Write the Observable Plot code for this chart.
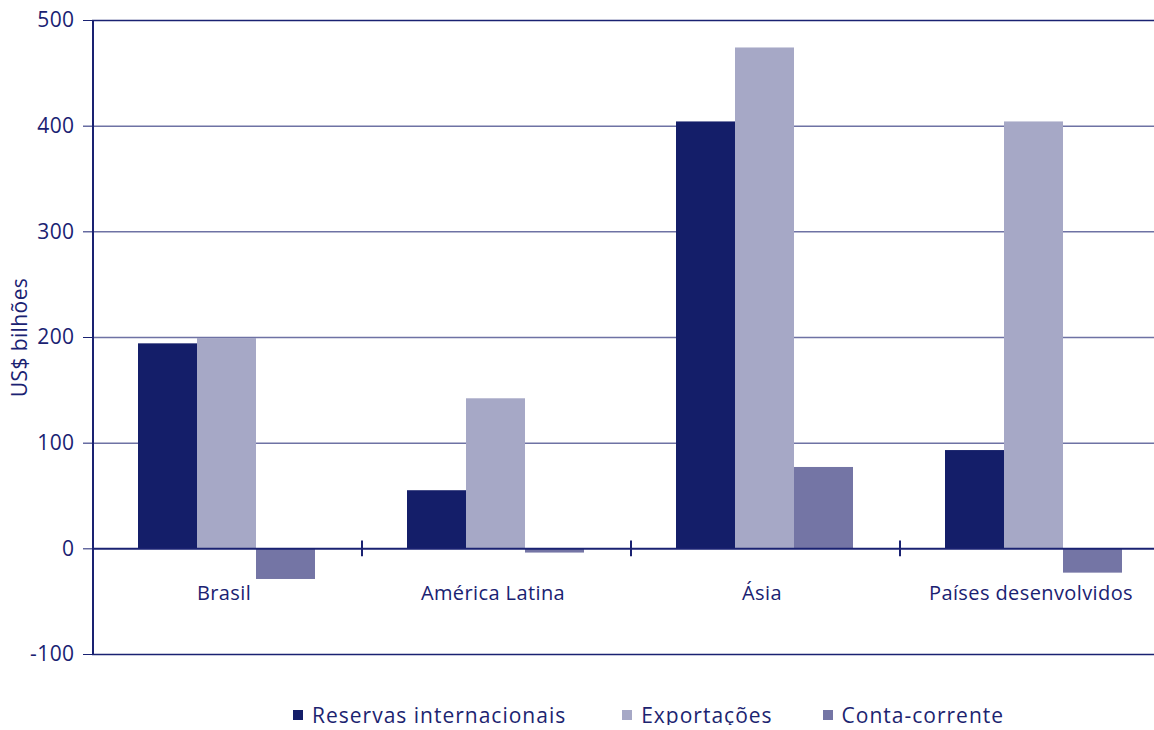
<!DOCTYPE html>
<html><head><meta charset="utf-8">
<script src="https://cdn.jsdelivr.net/npm/d3@7"></script>
<script src="https://cdn.jsdelivr.net/npm/@observablehq/plot@0.6"></script>
<style>
body{margin:0;background:#fff;font-family:"Open Sans",sans-serif;overflow:hidden;}
#legend{display:flex;align-items:center;margin-left:293px;margin-top:25px;font-size:21px;letter-spacing:1px;color:#1c2470;line-height:20px;height:20px;}
#legend .item{display:flex;align-items:center;}
#legend .sw{width:10px;height:10px;margin-right:9px;}
</style></head><body>
<div id="chart"></div>
<div id="legend"></div>
<script>
const categories = ["Brasil", "América Latina", "Ásia", "Países desenvolvidos"];
const seriesNames = ["Reservas internacionais", "Exportações", "Conta-corrente"];
const reservas = [194, 55, 404, 93];
const exportacoes = [199, 142, 474, 404];
const contaCorrente = [-29, -4, 77, -23];
const yTicks = [-100, 0, 100, 200, 300, 400, 500];
const colors = ["#141e69", "#a6a8c6", "#7475a5"];

const navy = "#1a2272";
const gridColor = "#6e72a4";
const seriesValues = [reservas, exportacoes, contaCorrente];
const rows = [];
categories.forEach((c, i) => seriesNames.forEach((s, j) => rows.push({category: c, series: s, value: seriesValues[j][i]})));

const chart = Plot.plot({
  width: 1154, height: 680,
  marginTop: 20, marginBottom: 26, marginLeft: 90, marginRight: -15,
  style: {fontFamily: "Open Sans", color: navy, background: "#fff", letterSpacing: "0.4px"},
  fx: {domain: categories, padding: 0, axis: null},
  x: {domain: seriesNames, paddingInner: 0, paddingOuter: 0.75, axis: null},
  y: {domain: [-100, 500]},
  color: {domain: seriesNames, range: colors},
  marks: [
    Plot.ruleY(yTicks.filter(t => t !== 0 && t !== -100 && t !== 500), {stroke: gridColor, strokeWidth: 1.5}),
    Plot.ruleY([500, -100], {stroke: navy, strokeWidth: 1.5}),
    Plot.barY(rows, {fx: "category", x: "series", y: "value", fill: "series"}),
    Plot.ruleY([0], {stroke: navy, strokeWidth: 2}),
    Plot.ruleX(categories.slice(1), {fx: d => d, x: () => seriesNames[0], dx: -75, y1: () => -7.5, y2: () => 7.5, stroke: navy, strokeWidth: 2}),
    Plot.ruleX([categories[0]], {fx: d => d, x: () => seriesNames[0], dx: -75, y1: () => -100, y2: () => 500, stroke: navy, strokeWidth: 2}),
    Plot.text(categories, {fx: d => d, y: () => 0, text: d => d, dy: 45, dx: -3, fontSize: 20, fill: navy}),
    Plot.axisY({ticks: yTicks, tickSize: 9, tickPadding: 9, fontSize: 21, tickFormat: d => String(d),
      label: "US$ bilhões", labelAnchor: "center", labelOffset: 80, labelArrow: "none"})
  ]
});
document.getElementById("chart").appendChild(chart);

const legend = document.getElementById("legend");
const gaps = [56, 50, 0];
seriesNames.forEach((s, i) => {
  const item = document.createElement("div");
  item.className = "item";
  item.style.marginRight = gaps[i] + "px";
  const sw = document.createElement("span");
  sw.className = "sw";
  sw.style.background = colors[i];
  const t = document.createElement("span");
  t.textContent = s;
  item.appendChild(sw); item.appendChild(t);
  legend.appendChild(item);
});
</script>
</body></html>
